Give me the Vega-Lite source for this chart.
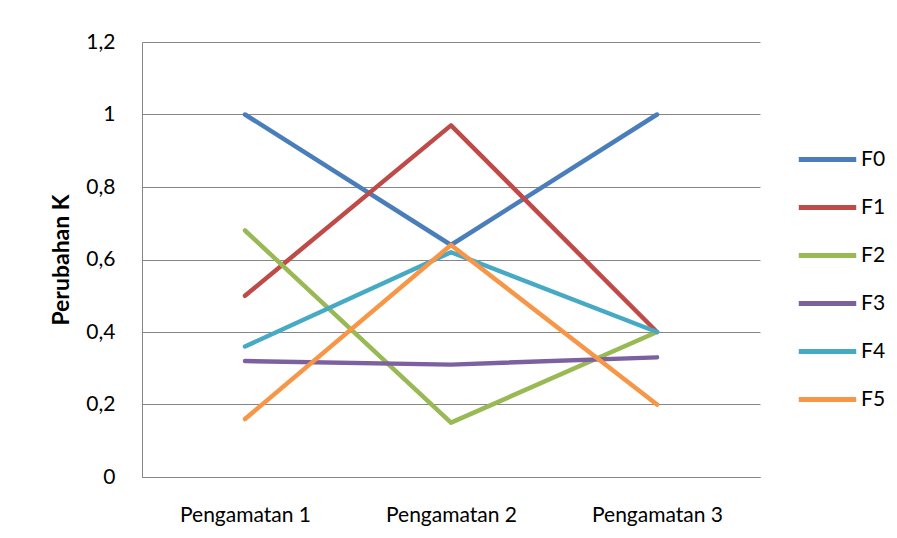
{
  "$schema": "https://vega.github.io/schema/vega-lite/v6.json",
  "width": 618,
  "height": 435,
  "autosize": {"type": "none"},
  "padding": {"left": 142, "top": 42, "right": 137, "bottom": 61},
  "background": "white",
  "data": {
    "values": [
      {"obs": "Pengamatan 1", "series": "F0", "k": 1.0},
      {"obs": "Pengamatan 2", "series": "F0", "k": 0.64},
      {"obs": "Pengamatan 3", "series": "F0", "k": 1.0},
      {"obs": "Pengamatan 1", "series": "F1", "k": 0.5},
      {"obs": "Pengamatan 2", "series": "F1", "k": 0.97},
      {"obs": "Pengamatan 3", "series": "F1", "k": 0.4},
      {"obs": "Pengamatan 1", "series": "F2", "k": 0.68},
      {"obs": "Pengamatan 2", "series": "F2", "k": 0.15},
      {"obs": "Pengamatan 3", "series": "F2", "k": 0.4},
      {"obs": "Pengamatan 1", "series": "F3", "k": 0.32},
      {"obs": "Pengamatan 2", "series": "F3", "k": 0.31},
      {"obs": "Pengamatan 3", "series": "F3", "k": 0.33},
      {"obs": "Pengamatan 1", "series": "F4", "k": 0.36},
      {"obs": "Pengamatan 2", "series": "F4", "k": 0.62},
      {"obs": "Pengamatan 3", "series": "F4", "k": 0.4},
      {"obs": "Pengamatan 1", "series": "F5", "k": 0.16},
      {"obs": "Pengamatan 2", "series": "F5", "k": 0.64},
      {"obs": "Pengamatan 3", "series": "F5", "k": 0.2}
    ]
  },
  "mark": {"type": "line", "strokeWidth": 4.5, "strokeCap": "round", "strokeJoin": "round"},
  "encoding": {
    "x": {
      "field": "obs", "type": "ordinal",
      "scale": {"type": "point", "padding": 0.5},
      "axis": {"title": null, "labelAngle": 0, "ticks": false, "labelPadding": 27, "domainColor": "#868686", "labelFontSize": 21, "labelFont": "Lato", "labelColor": "#000000"}
    },
    "y": {
      "field": "k", "type": "quantitative",
      "scale": {"domain": [0, 1.2], "nice": false},
      "axis": {"title": "Perubahan K", "values": [0, 0.2, 0.4, 0.6, 0.8, 1, 1.2], "format": ".1~f", "ticks": false, "labelPadding": 27, "domain": true, "domainColor": "#868686", "gridColor": "#868686", "labelFontSize": 21, "labelFont": "Lato", "labelColor": "#000000", "titleFont": "Lato", "titleFontSize": 23, "titleFontWeight": "bold", "titleColor": "#000000", "titlePadding": 12}
    },
    "color": {
      "field": "series", "type": "nominal",
      "scale": {"domain": ["F0", "F1", "F2", "F3", "F4", "F5"], "range": ["#4A7EBB", "#BE4B48", "#98B954", "#7D60A0", "#46AAC5", "#F79646"]},
      "legend": {"title": null, "orient": "none", "legendX": 654, "legendY": 86, "symbolType": "stroke", "symbolSize": 3300, "symbolStrokeWidth": 5, "labelFont": "Lato", "labelFontSize": 21, "labelColor": "#000000", "rowPadding": 6, "labelOffset": 2}
    }
  },
  "config": {
    "locale": {"number": {"decimal": ",", "thousands": ".", "grouping": [3], "currency": ["", ""]}},
    "view": {"stroke": null},
    "axis": {"gridWidth": 1, "domainWidth": 1}
  }
}
